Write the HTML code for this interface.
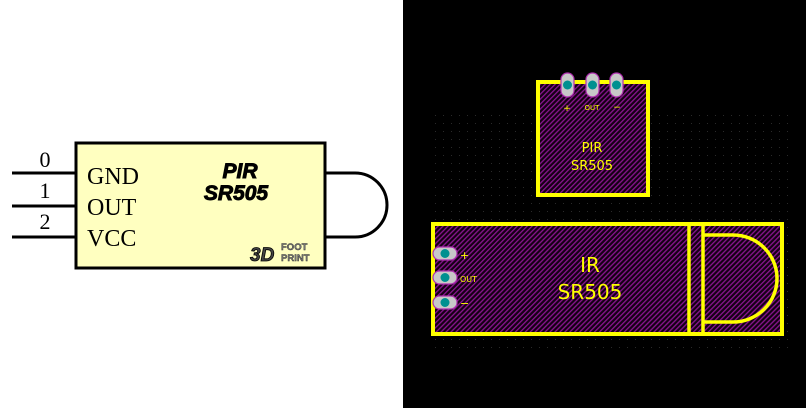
<!DOCTYPE html>
<html><head><style>html,body{margin:0;padding:0;background:#fff}svg{display:block}</style></head>
<body>
<svg width="806" height="408" viewBox="0 0 806 408" xmlns="http://www.w3.org/2000/svg">
<defs>
<pattern id="h" width="3.5" height="3.5" patternUnits="userSpaceOnUse" patternTransform="rotate(45)">
<rect width="3.5" height="3.5" fill="#140014"/><rect width="1.3" height="3.5" fill="#8a1590"/>
</pattern>
<pattern id="g" width="8" height="8" patternUnits="userSpaceOnUse"><rect x="3" y="3" width="1" height="1" fill="#2a2a2a"/></pattern>
</defs>
<rect x="0" y="0" width="403" height="408" fill="#fff"/>
<rect x="403" y="0" width="403" height="408" fill="#000"/>
<rect x="430" y="108" width="360" height="240" fill="url(#g)"/>
<g stroke="#000" stroke-width="3" fill="none">
<line x1="12" y1="173" x2="76" y2="173"/><line x1="12" y1="206" x2="76" y2="206"/><line x1="12" y1="237" x2="76" y2="237"/>
<path d="M325 173 H355 A32 32 0 0 1 355 237 H325"/>
</g>
<rect x="76" y="143" width="249" height="125" fill="#ffffc0" stroke="#000" stroke-width="3"/>
<g font-family="Liberation Serif, serif" font-size="24" fill="#000">
<text x="87" y="184">GND</text><text x="87" y="215">OUT</text><text x="87" y="246">VCC</text>
<text x="45" y="167" text-anchor="middle" font-size="22">0</text>
<text x="45" y="198" text-anchor="middle" font-size="22">1</text>
<text x="45" y="229" text-anchor="middle" font-size="22">2</text>
</g>
<g font-family="Liberation Sans, sans-serif" font-weight="bold" font-style="italic" font-size="21" fill="#000" stroke="#000" stroke-width="0.9" text-anchor="middle">
<text x="240" y="178">PIR</text><text x="236" y="200">SR505</text>
</g>
<text x="250" y="261" font-family="Liberation Sans, sans-serif" font-weight="bold" font-style="italic" font-size="19" fill="#444" stroke="#000" stroke-width="0.8">3D</text>
<text x="281" y="250" font-family="Liberation Sans, sans-serif" font-weight="bold" font-size="9.5" fill="#777" stroke="#333" stroke-width="0.4">FOOT</text>
<text x="281" y="261" font-family="Liberation Sans, sans-serif" font-weight="bold" font-size="9.5" fill="#777" stroke="#333" stroke-width="0.4">PRINT</text>
<rect x="538" y="82" width="110" height="113" fill="url(#h)" stroke="#ffff00" stroke-width="4"/>
<g fill="#c8c8c8" stroke="#b030b0" stroke-width="1.2">
<rect x="561" y="73" width="13" height="24" rx="6.5"/><rect x="586" y="73" width="13" height="24" rx="6.5"/><rect x="610" y="73" width="13" height="24" rx="6.5"/>
</g>
<g fill="#009090"><circle cx="567.5" cy="85" r="4.5"/><circle cx="592.5" cy="85" r="4.5"/><circle cx="616.5" cy="85" r="4.5"/></g>
<g font-family="DejaVu Sans, sans-serif" fill="#ffff00" text-anchor="middle">
<text x="567" y="111" font-size="9">+</text><text x="592" y="110" font-size="7">OUT</text><text x="617" y="110" font-size="9">−</text>
<text x="592" y="152" font-size="13">PIR</text><text x="592" y="170" font-size="13">SR505</text>
</g>
<rect x="433" y="224" width="349" height="110" fill="url(#h)" stroke="#ffff00" stroke-width="4"/>
<g stroke="#ffff00" stroke-width="3.5" fill="none">
<line x1="689" y1="224" x2="689" y2="334"/><line x1="703" y1="224" x2="703" y2="334"/>
<path d="M703 235 H733 A44 43.5 0 0 1 733 322 H703"/>
</g>
<g fill="#c8c8c8" stroke="#b030b0" stroke-width="1.2">
<rect x="433" y="247" width="24" height="13" rx="6.5"/><rect x="433" y="271" width="24" height="13" rx="6.5"/><rect x="433" y="296" width="24" height="13" rx="6.5"/>
</g>
<g fill="#009090"><circle cx="445" cy="253.5" r="4.5"/><circle cx="445" cy="277.5" r="4.5"/><circle cx="445" cy="302.5" r="4.5"/></g>
<g font-family="DejaVu Sans, sans-serif" fill="#ffff00">
<text x="460" y="259" font-size="11">+</text><text x="460" y="282" font-size="8">OUT</text><text x="460" y="307" font-size="11">−</text>
<text x="590" y="272" font-size="20" text-anchor="middle">IR</text>
<text x="590" y="299" font-size="20" text-anchor="middle">SR505</text>
</g>
</svg>
</body></html>
